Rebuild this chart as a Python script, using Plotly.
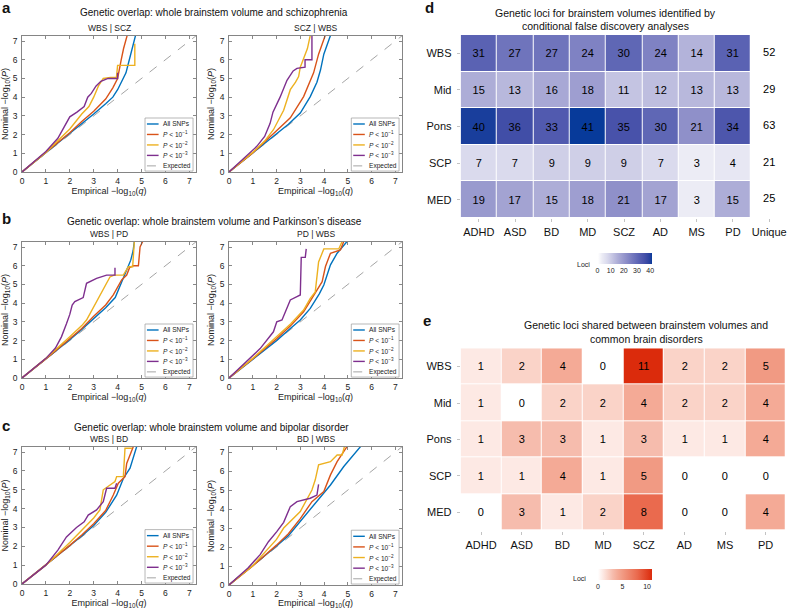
import plotly.graph_objects as go

W, H = 789, 609
FONT = "Liberation Sans, Arial, Helvetica, sans-serif"

# ---------------- QQ data: [empirical -log10(q), nominal -log10(P)] ----------------
EXPECTED = [0, 7.3]

WBS_SCZ_ALL = [[0,0],[1,1.02],[2,2.05],[2.5,2.6],[3,3.1],[3.5,3.65],[3.8,4.0],[4.0,4.4],[4.2,4.9],[4.35,5.3],[4.45,5.8],[4.55,6.3],[4.65,6.7],[4.75,7.3]]
WBS_SCZ_P1 = [[0,0],[1,1.03],[2,2.1],[2.5,2.7],[3,3.25],[3.5,3.9],[3.8,4.5],[4.0,5.0],[4.05,5.4],[4.15,6.0],[4.25,6.6],[4.35,7.0],[4.4,7.3]]
WBS_SCZ_P2 = [[0,0],[1,1.05],[2,2.3],[2.5,3.1],[2.8,3.5],[3.0,4.0],[3.2,4.6],[3.4,5.0],[3.7,5.05],[3.95,5.05],[4.0,5.7],[4.72,5.7],[4.72,6.85]]
WBS_SCZ_P3 = [[0,0],[1,1.1],[1.5,1.8],[2.0,2.95],[2.3,3.2],[2.6,3.5],[2.75,4.0],[2.9,4.2],[3.1,4.6],[3.3,4.85],[3.5,4.95],[3.6,5.0],[4.0,5.0],[4.0,5.3]]

SCZ_WBS_ALL = [[0,0],[1,1.0],[2,2.05],[2.5,2.55],[3,3.15],[3.42,4.03],[3.7,4.8],[3.85,5.45],[3.99,6.3],[4.1,6.7],[4.27,7.3]]
SCZ_WBS_P1 = [[0,0],[1,1.02],[2,2.2],[2.58,2.9],[3.14,4.03],[3.56,5.3],[3.77,6.3],[3.9,6.8],[4.0,7.2],[4.05,7.3]]
SCZ_WBS_P2 = [[0,0],[1,1.05],[1.5,1.65],[1.87,2.26],[2.3,3.3],[2.58,4.4],[2.8,4.8],[2.93,5.1],[3.0,5.6],[3.14,6.07],[3.3,6.6],[3.42,7.3]]
SCZ_WBS_P3 = [[0,0],[1,1.15],[1.17,1.37],[1.5,1.9],[1.73,2.6],[1.85,3.2],[2.15,4.0],[2.44,4.9],[2.7,5.4],[2.86,5.54],[3.2,5.6],[3.2,6.0],[3.49,6.0],[3.49,7.3]]

WBS_PD_ALL = [[0,0],[1,1.0],[2,2.05],[2.5,2.6],[3,3.15],[3.5,3.75],[3.9,4.3],[4.1,4.9],[4.25,5.35],[4.4,5.9],[4.55,6.3],[4.65,6.8],[4.7,7.3]]
WBS_PD_P1 = [[0,0],[1,1.02],[2,2.1],[2.5,2.65],[3,3.3],[3.5,3.9],[3.82,4.44],[4.17,5.24],[4.38,5.5],[4.5,5.9],[4.66,6.0],[4.87,6.0],[4.94,7.0],[5.05,7.3]]
WBS_PD_P2 = [[0,0],[1,1.05],[2,2.2],[2.5,2.8],[2.7,3.1],[3.12,4.08],[3.33,4.6],[3.68,5.4],[3.85,5.5],[4.24,5.5],[4.45,5.95],[4.63,5.95],[4.7,7.3]]
WBS_PD_P3 = [[0,0],[1,1.05],[1.4,1.6],[1.65,2.2],[1.86,2.9],[2.0,3.4],[2.1,3.9],[2.21,4.08],[2.56,4.3],[2.65,4.9],[2.7,5.06],[3.12,5.33],[3.54,5.5],[3.89,5.5],[3.89,5.9]]

PD_WBS_ALL = [[0,0],[1,1.0],[2,2.0],[2.58,2.65],[3.0,3.1],[3.42,3.72],[3.8,4.5],[3.99,4.97],[4.27,6.05],[4.55,6.67],[4.83,7.1],[4.97,7.3]]
PD_WBS_P1 = [[0,0],[1,1.02],[2,2.1],[2.6,2.8],[3.14,3.54],[3.56,4.44],[3.92,5.15],[4.06,5.96],[4.27,6.67],[4.69,6.85],[4.83,7.3]]
PD_WBS_P2 = [[0,0],[1,1.05],[2,2.2],[2.6,2.9],[3.14,3.63],[3.42,4.26],[3.63,4.6],[3.7,5.33],[3.77,6.2],[3.99,6.9],[4.62,6.9],[4.76,7.3]]
PD_WBS_P3 = [[0,0],[0.89,1.04],[1.31,1.57],[1.87,2.47],[2.01,3.0],[2.23,3.1],[2.44,3.72],[2.58,4.17],[2.86,4.35],[3.0,4.44],[3.04,6.45],[3.21,6.45],[3.25,6.9]]

WBS_BD_ALL = [[0,0],[1,1.0],[2,2.0],[2.5,2.55],[3,3.1],[3.5,3.8],[3.96,4.71],[4.24,5.6],[4.52,6.15],[4.73,7.12],[4.8,7.3]]
WBS_BD_P1 = [[0,0],[1,1.0],[2,2.05],[2.5,2.6],[3,3.2],[3.5,3.9],[3.82,4.72],[4.03,5.35],[4.31,5.7],[4.38,6.4],[4.59,7.0],[4.66,7.3]]
WBS_BD_P2 = [[0,0],[1,1.0],[2,2.2],[2.56,2.9],[3.0,3.5],[3.26,3.93],[3.4,5.0],[3.89,5.44],[3.96,5.7],[4.24,5.7],[4.31,7.2],[4.6,7.2]]
WBS_BD_P3 = [[0,0],[1,1.0],[1.5,1.8],[1.86,2.5],[2.28,3.0],[2.6,3.3],[2.77,3.66],[3.12,3.93],[3.4,4.37],[3.54,5.08],[3.89,5.08],[3.96,5.35]]

BD_WBS_ALL = [[0,0],[1,1.0],[2,2.05],[2.5,2.6],[3.0,3.34],[3.7,4.39],[4.27,5.27],[4.83,6.24],[5.25,6.85],[5.54,7.3]]
BD_WBS_P1 = [[0,0],[1,1.0],[2,2.1],[2.5,2.7],[3.0,3.5],[3.49,4.39],[3.99,4.92],[4.27,5.8],[4.55,6.5],[4.83,7.03],[4.97,7.3]]
BD_WBS_P2 = [[0,0],[1,1.02],[2,2.4],[2.3,3.0],[3.0,3.87],[3.28,4.48],[3.49,5.0],[3.63,5.54],[3.77,6.33],[4.27,6.5],[4.55,6.85],[4.76,6.85],[4.86,7.3]]
BD_WBS_P3 = [[0,0],[0.8,0.9],[1.31,1.6],[1.66,2.28],[2.01,2.81],[2.3,3.3],[2.58,4.13],[2.86,4.39],[3.42,4.57],[3.7,4.74],[3.77,5.3]]

SERIES_NAMES = ["All SNPs", "<i>P</i> < 10<sup>−1</sup>", "<i>P</i> < 10<sup>−2</sup>", "<i>P</i> < 10<sup>−3</sup>", "Expected"]
QQ_TITLES = ["WBS | SCZ", "SCZ | WBS", "WBS | PD", "PD | WBS", "WBS | BD", "BD | WBS"]

# ---------------- Heatmap data ----------------
REGIONS = ["WBS", "Mid", "Pons", "SCP", "MED"]
DISORDERS = ["ADHD", "ASD", "BD", "MD", "SCZ", "AD", "MS", "PD"]
LOCI_WBS = [31, 27, 27, 24, 30, 24, 14, 31]
LOCI_MID = [15, 13, 16, 18, 11, 12, 13, 13]
LOCI_PONS = [40, 36, 33, 41, 35, 30, 21, 34]
LOCI_SCP = [7, 7, 9, 9, 9, 7, 3, 4]
LOCI_MED = [19, 17, 15, 18, 21, 17, 3, 15]
UNIQUE = [52, 29, 63, 21, 25]

SHARED_WBS = [1, 2, 4, 0, 11, 2, 2, 5]
SHARED_MID = [1, 0, 2, 2, 4, 2, 2, 4]
SHARED_PONS = [1, 3, 3, 1, 3, 1, 1, 4]
SHARED_SCP = [1, 1, 4, 1, 5, 0, 0, 0]
SHARED_MED = [0, 3, 1, 2, 8, 0, 0, 4]

# ---------------- styling ----------------
COLORS = ["#0072BD", "#D95319", "#EDB120", "#7E2F8E"]
BLUE_SCALE = [[0, "#ffffff"], [0.073, "#ececf5"], [0.17, "#dadaed"], [0.268, "#c4c4e2"],
              [0.366, "#adadd7"], [0.512, "#8f90c9"], [0.659, "#6f74bc"], [0.756, "#5a62b3"],
              [0.854, "#4852aa"], [0.95, "#2c429f"], [1, "#073a9a"]]
RED_SCALE = [[0, "#ffffff"], [0.091, "#fde9e4"], [0.182, "#fad3c8"], [0.273, "#f6bcad"],
             [0.364, "#f4aa96"], [0.455, "#f19a83"], [0.727, "#ea6a4e"], [1, "#db2b0c"]]


def xd(a, b):
    return [a / W, b / W]


def yd(t, b):
    return [1 - b / H, 1 - t / H]


fig = go.Figure()

qq_sets = [
    (WBS_SCZ_ALL, WBS_SCZ_P1, WBS_SCZ_P2, WBS_SCZ_P3),
    (SCZ_WBS_ALL, SCZ_WBS_P1, SCZ_WBS_P2, SCZ_WBS_P3),
    (WBS_PD_ALL, WBS_PD_P1, WBS_PD_P2, WBS_PD_P3),
    (PD_WBS_ALL, PD_WBS_P1, PD_WBS_P2, PD_WBS_P3),
    (WBS_BD_ALL, WBS_BD_P1, WBS_BD_P2, WBS_BD_P3),
    (BD_WBS_ALL, BD_WBS_P1, BD_WBS_P2, BD_WBS_P3),
]
qq_boxes = [(22, 196, 36, 172), (229, 402, 36, 172),
            (22, 196, 242, 378), (229, 402, 242, 378),
            (22, 196, 447, 584), (229, 402, 447, 585)]

shapes = []
annotations = []
layout_axes = {}

for i, (curves, box) in enumerate(zip(qq_sets, qq_boxes), start=1):
    sfx = "" if i == 1 else str(i)
    xa, ya = "x" + sfx, "y" + sfx
    fig.add_trace(go.Scatter(x=EXPECTED, y=EXPECTED, mode="lines",
                             line=dict(color="#9a9a9a", width=0.9, dash="dash"),
                             xaxis=xa, yaxis=ya, showlegend=False, hoverinfo="skip"))
    for curve, col in zip(curves, COLORS):
        fig.add_trace(go.Scatter(x=[p[0] for p in curve], y=[p[1] for p in curve], mode="lines",
                                 line=dict(color=col, width=1.4),
                                 xaxis=xa, yaxis=ya, showlegend=False, hoverinfo="skip"))
    x0, x1, t, b = box
    common = dict(range=[0, 7.28], tickvals=list(range(8)), ticks="inside", ticklen=3,
                  tickwidth=0.7, tickcolor="#555", showline=True, linecolor="#666", linewidth=0.8,
                  mirror="ticks", showgrid=False, zeroline=False,
                  tickfont=dict(size=8.5, color="#222", family=FONT), automargin=False, fixedrange=True)
    layout_axes["xaxis" + sfx] = dict(common, domain=xd(x0, x1), anchor=ya,
                                      ticklabelstandoff=1,
                                      title=dict(text="Empirical −log<sub>10</sub>(<i>q</i>)",
                                                 font=dict(size=9, color="#222", family=FONT), standoff=2))
    layout_axes["yaxis" + sfx] = dict(common, range=[0, 7.27], domain=yd(t, b), anchor=xa,
                                      ticklabelstandoff=2,
                                      title=dict(text="Nominal −log<sub>10</sub>(<i>P</i>)",
                                                 font=dict(size=9, color="#222", family=FONT), standoff=3))
    # subtitle
    annotations.append(dict(text=QQ_TITLES[i - 1], xref=xa + " domain", yref=ya + " domain",
                            x=0.5, y=1.0, yshift=8, xanchor="center", yanchor="middle",
                            showarrow=False, font=dict(size=8.5, color="#222", family=FONT)))
    # legend box
    xr, yr = xa + " domain", ya + " domain"
    shapes.append(dict(type="rect", xref=xr, yref=yr, x0=0.707, x1=0.983, y0=0.007, y1=0.397,
                       line=dict(color="#999", width=0.7), fillcolor="white", layer="above"))
    for k, name in enumerate(SERIES_NAMES):
        yy = 0.353 - k * 0.077
        if k < 4:
            shapes.append(dict(type="line", xref=xr, yref=yr, x0=0.718, x1=0.785, y0=yy, y1=yy,
                               line=dict(color=COLORS[k], width=1.4), layer="above"))
        else:
            shapes.append(dict(type="line", xref=xr, yref=yr, x0=0.718, x1=0.785, y0=yy, y1=yy,
                               line=dict(color="#9a9a9a", width=0.9, dash="dash"), layer="above"))
        annotations.append(dict(text=name, xref=xr, yref=yr, x=0.80, y=yy, xanchor="left",
                                yanchor="middle", showarrow=False,
                                font=dict(size=6.6, color="#222", family=FONT)))

# ---------------- Heatmap d ----------------
loci = [LOCI_WBS, LOCI_MID, LOCI_PONS, LOCI_SCP, LOCI_MED]
fig.add_trace(go.Heatmap(z=loci, x=DISORDERS, y=REGIONS, colorscale=BLUE_SCALE, zmin=0, zmax=41,
                         xgap=1, ygap=1, texttemplate="%{z}",
                         textfont=dict(size=11, color="black", family=FONT),
                         xaxis="x7", yaxis="y7", hoverinfo="skip",
                         colorbar=dict(orientation="h", x=624.5 / W, xanchor="center",
                                       y=1 - 253 / H, yanchor="top", len=54, lenmode="pixels",
                                       thickness=11, outlinewidth=0, ticks="", xpad=0, ypad=0,
                                       tickvals=[0, 10, 20, 30, 40],
                                       tickfont=dict(size=7, color="#222", family=FONT))))
fig.add_trace(go.Scatter(x=["Unique"] * len(REGIONS), y=REGIONS, text=[str(v) for v in UNIQUE],
                         mode="text", textfont=dict(size=11, color="black", family=FONT),
                         xaxis="x7", yaxis="y7", showlegend=False, hoverinfo="skip"))

# ---------------- Heatmap e ----------------
shared = [SHARED_WBS, SHARED_MID, SHARED_PONS, SHARED_SCP, SHARED_MED]
fig.add_trace(go.Heatmap(z=shared, x=DISORDERS, y=REGIONS, colorscale=RED_SCALE, zmin=0, zmax=11,
                         xgap=1, ygap=1, texttemplate="%{z}",
                         textfont=dict(size=11, color="black", family=FONT),
                         xaxis="x8", yaxis="y8", hoverinfo="skip",
                         colorbar=dict(orientation="h", x=625 / W, xanchor="center",
                                       y=1 - 569 / H, yanchor="top", len=54, lenmode="pixels",
                                       thickness=11, outlinewidth=0, ticks="", xpad=0, ypad=0,
                                       tickvals=[0, 5, 10],
                                       tickfont=dict(size=7, color="#222", family=FONT))))

hm_x = dict(type="category", categoryorder="array", ticks="outside", ticklen=3, tickcolor="#aaa",
            tickwidth=0.7, showline=False, showgrid=False, zeroline=False, automargin=False,
            fixedrange=True, ticklabelstandoff=3, tickfont=dict(size=11, color="#111", family=FONT))
layout_axes["xaxis7"] = dict(hm_x, domain=xd(460.7, 787.4), anchor="y7", ticklabelstandoff=1,
                             categoryarray=DISORDERS + ["Unique"], range=[-0.5, 8.5])
layout_axes["yaxis7"] = dict(hm_x, domain=yd(35, 218), anchor="x7",
                             categoryarray=REGIONS, range=[4.5, -0.5])
layout_axes["xaxis8"] = dict(hm_x, domain=xd(460.7, 786), anchor="y8", ticklabelstandoff=1,
                             categoryarray=DISORDERS, range=[-0.5, 7.5])
layout_axes["yaxis8"] = dict(hm_x, domain=yd(348.3, 530.7), anchor="x8",
                             categoryarray=REGIONS, range=[4.5, -0.5])


def px_ann(text, x, y, size, bold=False, xanchor="center", color="#111"):
    return dict(text=("<b>%s</b>" % text) if bold else text, xref="paper", yref="paper",
                x=x / W, y=1 - y / H, xanchor=xanchor, yanchor="middle", showarrow=False,
                font=dict(size=size, color=color, family=FONT))


annotations += [
    px_ann("a", 0, 8, 15, bold=True, xanchor="left"),
    px_ann("b", 0, 218, 15, bold=True, xanchor="left"),
    px_ann("c", 0, 425, 15, bold=True, xanchor="left"),
    px_ann("d", 423, 8, 15, bold=True, xanchor="left"),
    px_ann("e", 421, 320, 15, bold=True, xanchor="left"),
    px_ann("Genetic overlap: whole brainstem volume and schizophrenia", 213.5, 13, 10),
    px_ann("Genetic overlap: whole brainstem volume and Parkinson’s disease", 214, 221, 10),
    px_ann("Genetic overlap: whole brainstem volume and bipolar disorder", 211.5, 427, 10),
    px_ann("Genetic loci for brainstem volumes identified by", 605, 12.5, 10.5),
    px_ann("conditional false discovery analyses", 605, 25.5, 10.5),
    px_ann("Genetic loci shared between brainstem volumes and", 646, 325, 10.5),
    px_ann("common brain disorders", 646, 339, 10.5),
    px_ann("Loci", 592, 264, 7, xanchor="right", color="#222"),
    px_ann("Loci", 588, 578, 7, xanchor="right", color="#222"),
]

fig.update_layout(width=W, height=H, margin=dict(l=0, r=0, t=0, b=0, pad=0),
                  paper_bgcolor="white", plot_bgcolor="white", showlegend=False,
                  font=dict(family=FONT, color="#222"),
                  shapes=shapes, annotations=annotations, **layout_axes)

fig.write_html("out.html", config={"displayModeBar": False, "staticPlot": True},
               post_script="document.body.style.margin='0';document.body.style.padding='0';")
